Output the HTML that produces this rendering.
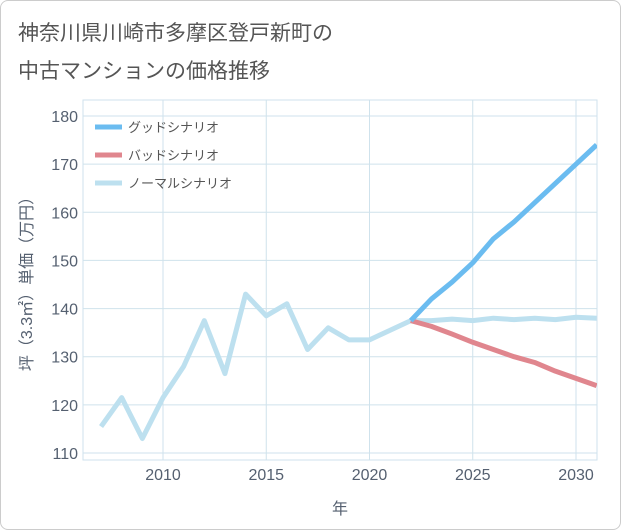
<!DOCTYPE html>
<html><head><meta charset="utf-8"><style>
body{margin:0;background:#fff;font-family:"Liberation Sans","Noto Sans CJK JP",sans-serif;}
#card{position:absolute;left:0;top:0;width:619px;height:528px;border:1px solid #ccc;border-radius:8px;background:#fff;}
</style></head><body>
<div id="card">
<svg id="chart" width="621" height="530" style="position:absolute;left:-1px;top:-1px">
<text x="18" y="40" font-size="21" fill="#555">神奈川県川崎市多摩区登戸新町の</text>
<text x="18" y="78" font-size="21" fill="#555">中古マンションの価格推移</text>
<g id="grid"></g><g id="axes"></g><g id="series"></g><g id="legend"></g>
</svg></div>
<script>
const years=[2007,2008,2009,2010,2011,2012,2013,2014,2015,2016,2017,2018,2019,2020,2021,2022,2023,2024,2025,2026,2027,2028,2029,2030,2031];
const normalVals=[115.5,121.5,113,121.5,128,137.5,126.5,143,138.5,141,131.5,136,133.5,133.5,135.5,137.5,137.5,137.8,137.5,138,137.7,138,137.7,138.2,138];
const futureYears=[2022,2023,2024,2025,2026,2027,2028,2029,2030,2031];
const goodVals=[137.5,142,145.5,149.5,154.5,158,162,166,170,174];
const badVals=[137.5,136.3,134.7,133,131.5,130,128.8,127,125.5,124];
const xTicks=[2010,2015,2020,2025,2030];
const yTicks=[110,120,130,140,150,160,170,180];
const seriesNames=["グッドシナリオ","バッドシナリオ","ノーマルシナリオ"];
const seriesColors=["#6bbcf0","#e0868e","#bde0ef"];
const L=83,R=597,T=100,B=460;
const x=v=>163+(v-2010)*(576-163)/20;
const y=v=>453-(v-110)*(453-116)/70;
const NS="http://www.w3.org/2000/svg";
function mk(tag,attrs,parent){const e=document.createElementNS(NS,tag);for(const k in attrs)e.setAttribute(k,attrs[k]);document.getElementById(parent).appendChild(e);return e;}
mk('rect',{x:L,y:T,width:R-L,height:B-T,fill:'none',stroke:'#cfe2ec'},'grid');
for(const t of xTicks){const l=mk('line',{x1:x(t),x2:x(t),y1:T,y2:B,stroke:'#cfe2ec'},'grid');

const tx=mk('text',{x:x(t),y:480,'font-size':16,fill:'#556070','text-anchor':'middle'},'axes');tx.textContent=t;
}
for(const t of yTicks){const l=mk('line',{x1:L,x2:R,y1:y(t),y2:y(t),stroke:'#cfe2ec'},'grid');

const tx=mk('text',{x:78,y:y(t)+6,'font-size':16,fill:'#556070','text-anchor':'end'},'axes');tx.textContent=t;
}
const xt=mk('text',{x:340,y:514,'font-size':16,fill:'#556070','text-anchor':'middle'},'axes');xt.textContent='年';

const yt=mk('text',{x:0,y:0,'font-size':16,fill:'#556070','text-anchor':'middle',transform:'translate(32,280) rotate(-90)'},'axes');yt.textContent='坪（3.3㎡）単価（万円）';

mk('clipPath',{id:'clip'},'series');mk('rect',{x:L,y:T,width:R-L,height:B-T},'clip');
function line(xs,vs,color,name){const p=mk('polyline',{points:xs.map((v,i)=>x(v)+','+y(vs[i])).join(' '),fill:'none',stroke:color,'stroke-width':5,'stroke-linejoin':'round','clip-path':'url(#clip)'},'series');
}
line(years,normalVals,seriesColors[2],'normal-scenario-line');
line(futureYears,badVals,seriesColors[1],'bad-scenario-line');
line(futureYears,goodVals,seriesColors[0],'good-scenario-line');
seriesNames.forEach((n,i)=>{const yy=127+i*28;
const l=mk('line',{x1:95,x2:122,y1:yy,y2:yy,stroke:seriesColors[i],'stroke-width':5},'legend');

const t=mk('text',{x:128,y:yy+5,'font-size':13,fill:'#555'},'legend');t.textContent=n;
});
</script></body></html>
